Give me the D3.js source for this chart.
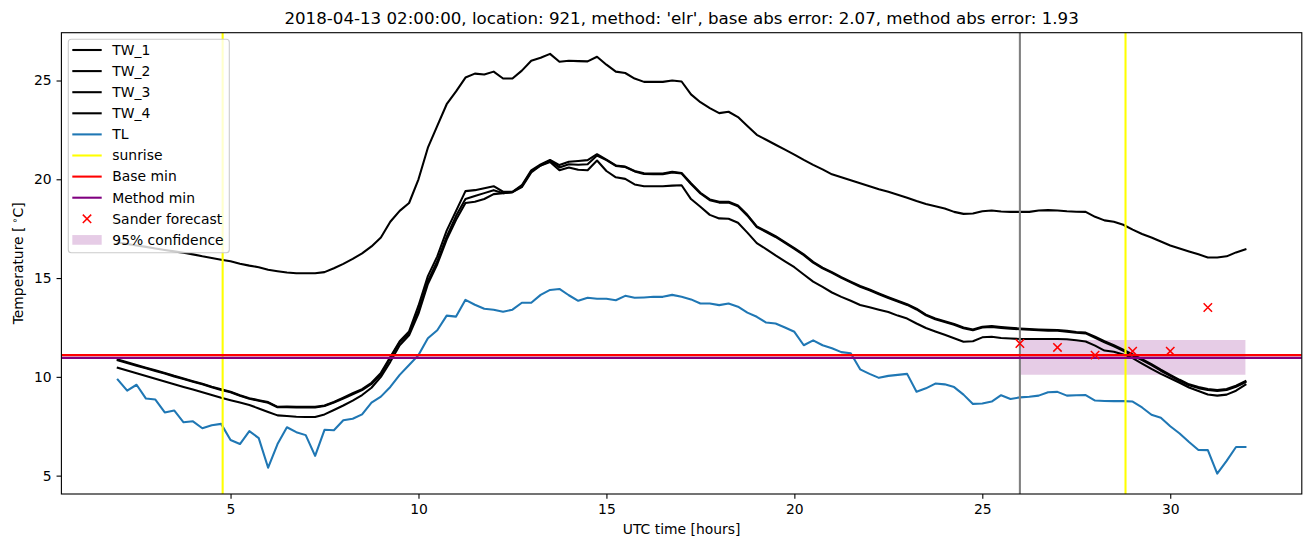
<!DOCTYPE html>
<html>
<head>
<meta charset="utf-8">
<script src="https://cdn.jsdelivr.net/npm/d3@7"></script>
<style>
  body { margin: 0; background: #ffffff; }
  svg { display: block; }
  text { font-family: "DejaVu Sans", sans-serif; }
</style>
</head>
<body>
<svg id="chart" width="1310" height="547"></svg>
<script>
// ---------------- data ----------------
const hours = [
  2, 2.25, 2.5, 2.75, 3, 3.25, 3.5, 3.75, 4, 4.25, 4.5, 4.75,
  5, 5.25, 5.5, 5.75, 6, 6.25, 6.5, 6.75, 7, 7.25, 7.5, 7.75,
  8, 8.25, 8.5, 8.75, 9, 9.25, 9.5, 9.75, 10, 10.25, 10.5, 10.75,
  11, 11.25, 11.5, 11.75, 12, 12.25, 12.5, 12.75, 13, 13.25, 13.5, 13.75,
  14, 14.25, 14.5, 14.75, 15, 15.25, 15.5, 15.75, 16, 16.25, 16.5, 16.75,
  17, 17.25, 17.5, 17.75, 18, 18.25, 18.5, 18.75, 19, 19.25, 19.5, 19.75,
  20, 20.25, 20.5, 20.75, 21, 21.25, 21.5, 21.75, 22, 22.25, 22.5, 22.75,
  23, 23.25, 23.5, 23.75, 24, 24.25, 24.5, 24.75, 25, 25.25, 25.5, 25.75,
  26, 26.25, 26.5, 26.75, 27, 27.25, 27.5, 27.75, 28, 28.25, 28.5, 28.75,
  29, 29.25, 29.5, 29.75, 30, 30.25, 30.5, 30.75, 31, 31.25, 31.5, 31.75,
  32
];

const tw1 = [
  16.8, 16.72, 16.65, 16.58, 16.5, 16.42, 16.35, 16.28, 16.2, 16.1, 16.02, 15.93,
  15.85, 15.73, 15.63, 15.55, 15.42, 15.35, 15.28, 15.24, 15.24, 15.24, 15.3, 15.5,
  15.72, 15.97, 16.25, 16.6, 17.05, 17.85, 18.4, 18.8, 20.0, 21.6, 22.7, 23.8,
  24.45, 25.15, 25.35, 25.3, 25.45, 25.1, 25.1, 25.5, 26.0, 26.15, 26.35, 25.95,
  26.0, 25.98, 25.97, 26.2, 25.8, 25.45, 25.38, 25.1, 24.93, 24.93, 24.93, 25.0,
  24.95, 24.3, 23.9, 23.6, 23.35, 23.42, 23.15, 22.7, 22.25, 22.0, 21.75, 21.5,
  21.25, 20.98, 20.73, 20.5, 20.25, 20.1, 19.95, 19.8, 19.65, 19.5, 19.37, 19.22,
  19.07, 18.9, 18.75, 18.63, 18.52, 18.35, 18.25, 18.27, 18.38, 18.42, 18.37, 18.35,
  18.35, 18.35, 18.42, 18.44, 18.42, 18.38, 18.36, 18.35, 18.1, 17.92, 17.85, 17.7,
  17.45, 17.23, 17.05, 16.85, 16.65, 16.5, 16.35, 16.2, 16.04, 16.04, 16.1, 16.3,
  16.45
];

const tw2 = [
  10.88, 10.74, 10.6, 10.46, 10.33, 10.2, 10.05, 9.92, 9.78, 9.65, 9.5, 9.37,
  9.25, 9.07, 8.92, 8.82, 8.72, 8.48, 8.5, 8.48, 8.48, 8.48, 8.55, 8.73,
  8.95, 9.17, 9.38, 9.7, 10.2, 11.0, 11.8, 12.3, 13.6, 15.1, 16.1, 17.4,
  18.4, 19.4, 19.45, 19.55, 19.65, 19.37, 19.37, 19.7, 20.45, 20.75, 20.98, 20.72,
  20.89, 20.93, 20.97, 21.27, 21.0, 20.7, 20.64, 20.42, 20.3, 20.29, 20.29, 20.38,
  20.32, 19.8, 19.32, 18.98, 18.86, 18.86, 18.67, 18.2, 17.62, 17.37, 17.12, 16.82,
  16.52, 16.2, 15.82, 15.53, 15.3, 15.05, 14.82, 14.6, 14.42, 14.22, 14.03, 13.85,
  13.68, 13.45, 13.15, 12.95, 12.82, 12.68, 12.5, 12.4, 12.54, 12.57, 12.52, 12.48,
  12.45, 12.42, 12.4, 12.38, 12.37, 12.33, 12.27, 12.24, 12.03, 11.8, 11.6, 11.37,
  11.13, 10.9, 10.64, 10.36, 10.1, 9.85, 9.62, 9.48, 9.38, 9.33, 9.38, 9.55,
  9.78
];

const tw3 = [
  10.84, 10.7, 10.56, 10.43, 10.3, 10.17, 10.02, 9.89, 9.75, 9.62, 9.47, 9.34,
  9.22, 9.04, 8.89, 8.79, 8.69, 8.46, 8.46, 8.45, 8.45, 8.45, 8.52, 8.7,
  8.9, 9.12, 9.33, 9.64, 10.12, 10.95, 11.75, 12.2, 13.35, 14.85, 15.85, 17.1,
  18.15, 19.0, 19.15, 19.3, 19.45, 19.3, 19.35, 19.65, 20.4, 20.7, 20.95, 20.6,
  20.76, 20.74, 20.76, 21.2, 20.97, 20.68, 20.62, 20.4, 20.27, 20.26, 20.26, 20.35,
  20.29, 19.76, 19.28, 18.94, 18.82, 18.82, 18.63, 18.16, 17.58, 17.33, 17.08, 16.78,
  16.48, 16.16, 15.78, 15.49, 15.26, 15.01, 14.78, 14.56, 14.38, 14.18, 13.99, 13.81,
  13.64, 13.41, 13.11, 12.91, 12.78, 12.64, 12.46, 12.36, 12.5, 12.53, 12.48, 12.44,
  12.41, 12.38, 12.36, 12.34, 12.33, 12.29, 12.23, 12.2, 11.98, 11.75, 11.55, 11.32,
  11.08, 10.85, 10.59, 10.31, 10.05, 9.8, 9.57, 9.43, 9.33, 9.28, 9.33, 9.5,
  9.73
];

const tw4 = [
  10.46, 10.32, 10.18, 10.04, 9.9, 9.77, 9.63, 9.49, 9.36, 9.22, 9.08, 8.94,
  8.82, 8.7, 8.57, 8.4, 8.22, 8.05, 8.02, 7.98, 7.97, 7.97, 8.1, 8.32,
  8.55, 8.8, 9.08, 9.45, 10.0, 10.76, 11.6, 12.1, 13.2, 14.7, 15.7, 16.95,
  17.95, 18.8, 18.86, 19.0, 19.25, 19.3, 19.35, 19.6, 20.35, 20.7, 20.88, 20.46,
  20.6, 20.48, 20.46, 20.95, 20.42, 20.1, 20.02, 19.74, 19.65, 19.65, 19.65, 19.68,
  19.7, 19.0, 18.61, 18.2, 18.02, 18.0, 17.8, 17.3, 16.77, 16.47, 16.15, 15.85,
  15.55, 15.18, 14.82, 14.55, 14.27, 14.05, 13.85, 13.64, 13.52, 13.4, 13.28, 13.1,
  12.95, 12.7, 12.47, 12.3, 12.13, 11.95, 11.78, 11.8, 12.0, 12.03, 11.97, 11.94,
  11.92, 11.92, 11.92, 11.92, 11.92, 11.9, 11.85, 11.79, 11.58, 11.33, 11.27, 11.13,
  10.95, 10.67, 10.4, 10.15, 9.93, 9.7, 9.46, 9.28, 9.11, 9.05, 9.1, 9.3,
  9.6
];

const tl = [
  9.86, 9.3, 9.6, 8.9, 8.85, 8.2, 8.3, 7.7, 7.75, 7.4, 7.55, 7.62,
  6.8, 6.6, 7.25, 6.9, 5.4, 6.6, 7.45, 7.2, 7.05, 6.0, 7.32, 7.3,
  7.8, 7.88, 8.1, 8.7, 9.0, 9.49, 10.1, 10.6, 11.1, 11.95, 12.36, 13.1,
  13.05, 13.9, 13.65, 13.45, 13.4, 13.3, 13.4, 13.75, 13.75, 14.15, 14.4, 14.45,
  14.13, 13.85, 14.0, 13.95, 13.95, 13.88, 14.1, 14.0, 14.02, 14.05, 14.05, 14.15,
  14.05, 13.92, 13.71, 13.71, 13.63, 13.71, 13.55, 13.25, 13.04, 12.75, 12.7, 12.5,
  12.28, 11.6, 11.85, 11.6, 11.45, 11.25, 11.19, 10.38, 10.15, 9.95, 10.05, 10.1,
  10.15, 9.25, 9.42, 9.66, 9.62, 9.48, 9.1, 8.63, 8.65, 8.75, 9.07, 8.88,
  8.96, 8.99, 9.05, 9.22, 9.24, 9.05, 9.07, 9.08, 8.8, 8.78, 8.77, 8.77,
  8.75, 8.45, 8.08, 7.93, 7.5, 7.13, 6.7, 6.3, 6.29, 5.1, 5.75, 6.45,
  6.45
];

const sunriseHours = [4.79, 28.81];
const forecastStartHour = 26.0;
const baseMin = 11.1;
const methodMin = 10.96;
const sanderHours = [26, 27, 28, 29, 30, 31];
const sanderTemp = [11.69, 11.49, 11.1, 11.3, 11.3, 13.51];
const confHours = [26, 32];
const confLow = [10.1, 10.1];
const confHigh = [11.86, 11.86];

const xTicks = [5, 10, 15, 20, 25, 30];
const yTicks = [5, 10, 15, 20, 25];
const xDomain = [0.5, 33.5];
const yDomain = [4.07, 27.42];

const titleText = "2018-04-13 02:00:00, location: 921, method: 'elr', base abs error: 2.07, method abs error: 1.93";
const xLabel = "UTC time [hours]";
const legendLabels = ["TW_1", "TW_2", "TW_3", "TW_4", "TL", "sunrise", "Base min", "Method min", "Sander forecast", "95% confidence"];

// ---------------- layout ----------------
const W = 1310, H = 547;
const plot = { left: 61.4, right: 1301.8, top: 32.7, bottom: 494 };
const FS = 13.9;
const LW = 2.08;

const svg = d3.select("#chart");
svg.append("rect").attr("width", W).attr("height", H).attr("fill", "#fff");

const x = d3.scaleLinear().domain(xDomain).range([plot.left, plot.right]);
const y = d3.scaleLinear().domain(yDomain).range([plot.bottom, plot.top]);

svg.append("defs").append("clipPath").attr("id", "clip")
  .append("rect")
  .attr("x", plot.left).attr("y", plot.top)
  .attr("width", plot.right - plot.left).attr("height", plot.bottom - plot.top);

const g = svg.append("g").attr("clip-path", "url(#clip)");

// confidence fill (below lines)
const area = d3.area()
  .x((d, i) => x(confHours[i]))
  .y0((d, i) => y(confLow[i]))
  .y1((d, i) => y(confHigh[i]));
g.append("path").datum(confHours).attr("d", area)
  .attr("fill", "purple").attr("fill-opacity", 0.2).attr("stroke", "none");

const line = d3.line().x((d, i) => x(hours[i])).y(d => y(d));

[tw1, tw2, tw3, tw4].forEach(s => {
  g.append("path").datum(s).attr("d", line)
    .attr("fill", "none").attr("stroke", "#000").attr("stroke-width", LW)
    .attr("stroke-linejoin", "round").attr("stroke-linecap", "square");
});
g.append("path").datum(tl).attr("d", line)
  .attr("fill", "none").attr("stroke", "#1f77b4").attr("stroke-width", LW)
  .attr("stroke-linejoin", "round").attr("stroke-linecap", "square");

// forecast start (gray vertical)
g.append("line")
  .attr("x1", x(forecastStartHour)).attr("x2", x(forecastStartHour))
  .attr("y1", plot.top).attr("y2", plot.bottom)
  .attr("stroke", "gray").attr("stroke-width", LW);

// sunrise lines
sunriseHours.forEach(h => {
  g.append("line")
    .attr("x1", x(h)).attr("x2", x(h))
    .attr("y1", plot.top).attr("y2", plot.bottom)
    .attr("stroke", "yellow").attr("stroke-width", LW);
});

// base min / method min
g.append("line").attr("x1", plot.left).attr("x2", plot.right)
  .attr("y1", y(baseMin)).attr("y2", y(baseMin))
  .attr("stroke", "red").attr("stroke-width", LW);
g.append("line").attr("x1", plot.left).attr("x2", plot.right)
  .attr("y1", y(methodMin)).attr("y2", y(methodMin))
  .attr("stroke", "purple").attr("stroke-width", LW);

// Sander forecast markers
const mk = 4.2;
function xMarker(sel, cx, cy) {
  sel.append("path")
    .attr("d", `M${cx - mk},${cy - mk}L${cx + mk},${cy + mk}M${cx - mk},${cy + mk}L${cx + mk},${cy - mk}`)
    .attr("stroke", "red").attr("stroke-width", 1.5).attr("fill", "none");
}
sanderHours.forEach((h, i) => xMarker(g, x(h), y(sanderTemp[i])));

// ---------------- axes ----------------
const xAxis = d3.axisBottom(x).tickValues(xTicks).tickSize(4.86).tickPadding(4.86).tickSizeOuter(0);
const yAxis = d3.axisLeft(y).tickValues(yTicks).tickSize(4.86).tickPadding(4.86).tickSizeOuter(0);

const gx = svg.append("g").attr("transform", `translate(0,${plot.bottom})`).call(xAxis);
const gy = svg.append("g").attr("transform", `translate(${plot.left},0)`).call(yAxis);
[gx, gy].forEach(ax => {
  ax.select(".domain").remove();
  ax.selectAll(".tick line").attr("stroke", "#000").attr("stroke-width", 1.1);
  ax.selectAll(".tick text").attr("fill", "#000").attr("font-size", FS)
    .attr("font-family", "DejaVu Sans, sans-serif");
});

// spines
svg.append("rect")
  .attr("x", plot.left).attr("y", plot.top)
  .attr("width", plot.right - plot.left).attr("height", plot.bottom - plot.top)
  .attr("fill", "none").attr("stroke", "#000").attr("stroke-width", 1.1);

// title
svg.append("text")
  .attr("x", (plot.left + plot.right) / 2).attr("y", 24)
  .attr("text-anchor", "middle").attr("font-size", 16.67).attr("fill", "#000")
  .text(titleText);

// x label
svg.append("text")
  .attr("x", (plot.left + plot.right) / 2).attr("y", 534)
  .attr("text-anchor", "middle").attr("font-size", FS).attr("fill", "#000")
  .text(xLabel);

// y label
const yl = svg.append("text")
  .attr("transform", `translate(23,${(plot.top + plot.bottom) / 2}) rotate(-90)`)
  .attr("text-anchor", "middle").attr("font-size", FS).attr("fill", "#000");
yl.append("tspan").text("Temperature [");
yl.append("tspan").attr("dx", 3).attr("dy", -5).attr("font-size", 9.7).text("\u2218");
yl.append("tspan").attr("dy", 5).text("C]");

// ---------------- legend ----------------
const leg = svg.append("g");
leg.append("rect")
  .attr("x", 68.3).attr("y", 39.3).attr("width", 161).attr("height", 213.4)
  .attr("rx", 3).attr("ry", 3)
  .attr("fill", "#fff").attr("fill-opacity", 0.8)
  .attr("stroke", "#cccccc").attr("stroke-width", 1.1);

const legColors = ["#000", "#000", "#000", "#000", "#1f77b4", "yellow", "red", "purple", "red", "purple"];
const rowY0 = 50, rowDY = 21.1, hx0 = 72.3, hx1 = 101.7, tx = 112.3;
legendLabels.forEach((lab, i) => {
  const cy = rowY0 + i * rowDY;
  if (i < 8) {
    leg.append("line").attr("x1", hx0).attr("x2", hx1).attr("y1", cy).attr("y2", cy)
      .attr("stroke", legColors[i]).attr("stroke-width", LW);
  } else if (i === 8) {
    xMarker(leg, (hx0 + hx1) / 2, cy);
  } else {
    leg.append("rect").attr("x", hx0).attr("y", cy - 4.85).attr("width", hx1 - hx0).attr("height", 9.7)
      .attr("fill", "purple").attr("fill-opacity", 0.2);
  }
  leg.append("text").attr("x", tx).attr("y", cy).attr("dy", "0.35em")
    .attr("font-size", FS).attr("fill", "#000").text(lab);
});
</script>
</body>
</html>
